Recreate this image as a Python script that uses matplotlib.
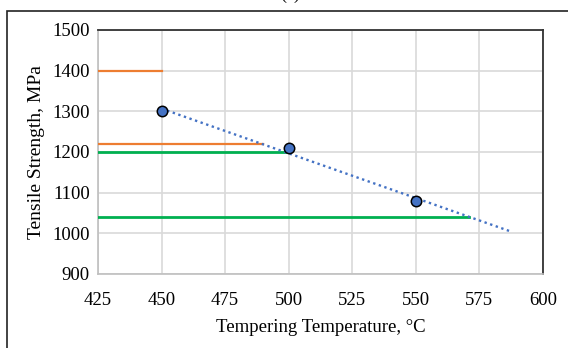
import matplotlib

matplotlib.use("Agg")
import matplotlib.pyplot as plt
import numpy as np
from matplotlib.patches import Rectangle

plt.rcParams["font.family"] = ["Liberation Serif", "DejaVu Serif"]

# measured tensile strength vs tempering temperature
temp_c = [450, 500, 550]
strength_mpa = [1300, 1210, 1080]

# requirement levels: (strength, right end of the line)
orange_levels = [1400, 1220]
orange_ends = [450, 490]
green_levels = [1200, 1040]
green_ends = [500, 571]

trend_end = 587

x_ticks = [425, 450, 475, 500, 525, 550, 575, 600]
y_ticks = [900, 1000, 1100, 1200, 1300, 1400, 1500]

fig = plt.figure(figsize=(5.68, 3.48), dpi=100)
ax = fig.add_axes([98 / 568, 74 / 348, 445 / 568, 244 / 348])

# outer chart frame
fig.patches.append(Rectangle((7 / 568, -0.05), 1.0, 1.05 - 11 / 348,
                             transform=fig.transFigure, fill=False,
                             edgecolor="#222222", linewidth=1.2))
fig.text(290 / 568, 1 + 1 / 348, "(a)", ha="center", va="baseline", fontsize=13)

for lvl, end in zip(orange_levels, orange_ends):
    ax.plot([425, end], [lvl, lvl], color="#ED7D31", linewidth=1.6, zorder=3)
for lvl, end in zip(green_levels, green_ends):
    ax.plot([425, end], [lvl, lvl], color="#00B050", linewidth=2.0, zorder=3)

# linear trend line, extended forward
k, b = np.polyfit(temp_c, strength_mpa, 1)
tx = np.array([temp_c[0], trend_end])
ax.plot(tx, k * tx + b, linestyle=(0, (1, 1.5)), color="#4472C4",
        linewidth=1.7, zorder=4)

ax.plot(temp_c, strength_mpa, "o", markersize=7.5, markerfacecolor="#4472C4",
        markeredgecolor="black", markeredgewidth=1.1, zorder=5)

ax.set_xlim(425, 600)
ax.set_ylim(900, 1500)
ax.set_xticks(x_ticks)
ax.set_yticks(y_ticks)
ax.grid(True, color="#D9D9D9", linewidth=1.2)
ax.set_axisbelow(True)
ax.tick_params(length=0, labelsize=13.5)
ax.tick_params(axis="x", pad=13)
ax.tick_params(axis="y", pad=6)

for side in ("left", "bottom"):
    ax.spines[side].set_color("#BFBFBF")
    ax.spines[side].set_linewidth(1.2)
for side in ("top", "right"):
    ax.spines[side].set_color("#333333")
    ax.spines[side].set_linewidth(1.3)

ax.set_xlabel("Tempering Temperature, °C", fontsize=13.5, labelpad=7)
ax.set_ylabel("Tensile Strength, MPa", fontsize=14, labelpad=5)

fig.savefig("out.png", dpi=100)
